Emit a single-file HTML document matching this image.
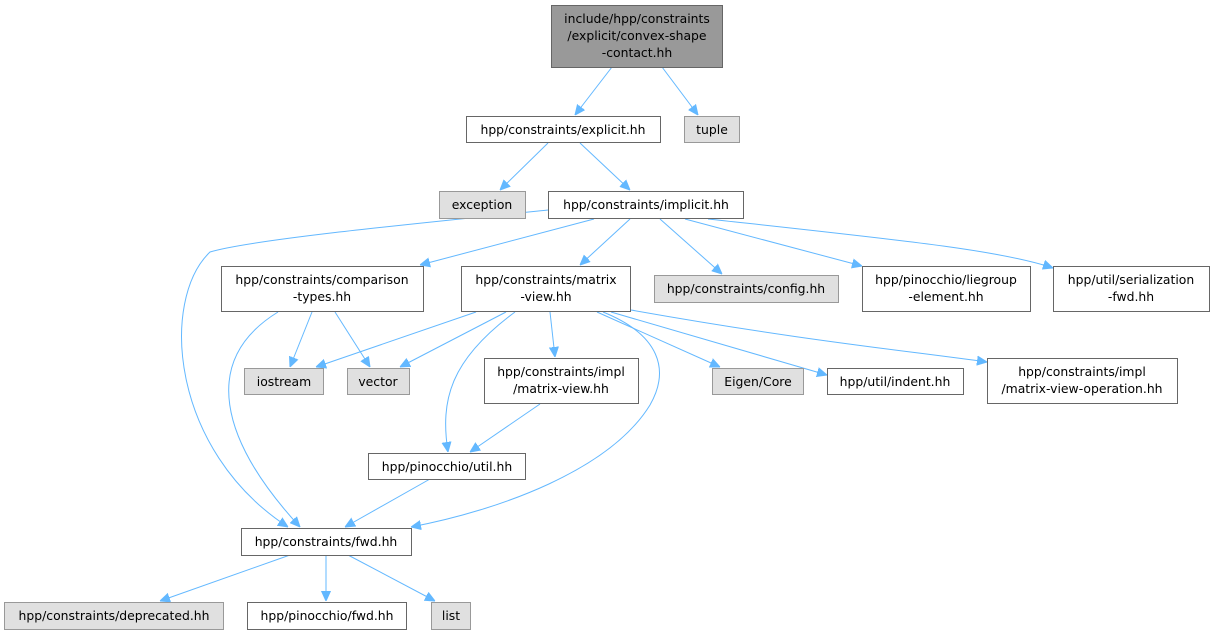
<!DOCTYPE html>
<html><head><meta charset="utf-8"><style>
html,body{margin:0;padding:0;background:#fff;}
svg{display:block;}
text{font-family:"DejaVu Sans","Liberation Sans",sans-serif;font-size:12.4px;fill:#000;text-anchor:middle;}
.n{fill:#fff;stroke:#666;stroke-width:1;}
.g{fill:#e0e0e0;stroke:#999;stroke-width:1;}
.e{fill:none;stroke:#63b8ff;stroke-width:1;}
</style></head><body>
<svg width="1214" height="636" viewBox="0 0 1214 636">
<defs><marker id="a" viewBox="0 0 10 10" refX="10" refY="5" markerWidth="10" markerHeight="10" markerUnits="userSpaceOnUse" orient="auto"><path d="M0,0.5 L10,5 L0,9.5 z" fill="#63b8ff" stroke="#63b8ff"/></marker></defs>
<g marker-end="url(#a)">
<path class="e" d="M612,67 L575,115"/>
<path class="e" d="M662,67 L698,115"/>
<path class="e" d="M548,143 L500,190"/>
<path class="e" d="M580,143 L630,190"/>
<path class="e" d="M548,210 C400,225 250,240 210,252 C160,300 170,450 288,527"/>
<path class="e" d="M594,219 L420,265"/>
<path class="e" d="M630,219 L580,265"/>
<path class="e" d="M660,219 L722,274"/>
<path class="e" d="M685,219 L862,266"/>
<path class="e" d="M708,219 C900,240 1000,250 1053,268"/>
<path class="e" d="M278,312 C200,360 220,440 300,527"/>
<path class="e" d="M312,312 L290,367"/>
<path class="e" d="M335,312 L370,367"/>
<path class="e" d="M476,312 L316,367"/>
<path class="e" d="M506,312 L400,367"/>
<path class="e" d="M515,312 C450,360 440,400 448,452"/>
<path class="e" d="M550,312 L555,357"/>
<path class="e" d="M597,312 L720,367"/>
<path class="e" d="M603,312 C660,335 670,370 650,405 C610,470 500,510 411,527"/>
<path class="e" d="M611,312 L827,375"/>
<path class="e" d="M631,310 C800,340 900,350 987,362"/>
<path class="e" d="M540,404 L470,452"/>
<path class="e" d="M430,479 L345,527"/>
<path class="e" d="M290,555 L160,601"/>
<path class="e" d="M326,555 L326,601"/>
<path class="e" d="M348,555 L435,601"/>
</g>
<rect x="551.5" y="5.5" width="171" height="62" fill="#999" stroke="#666"/>
<text x="637" y="23">include/hpp/constraints</text><text x="637" y="40">/explicit/convex-shape</text><text x="637" y="57">-contact.hh</text>
<rect class="n" x="466.5" y="116.5" width="194" height="26"/><text x="563" y="134">hpp/constraints/explicit.hh</text>
<rect class="g" x="684.5" y="116.5" width="55" height="26"/><text x="712" y="134">tuple</text>
<rect class="g" x="439.5" y="191.5" width="86" height="27"/><text x="482" y="209">exception</text>
<rect class="n" x="548.5" y="191.5" width="195" height="27"/><text x="646" y="209">hpp/constraints/implicit.hh</text>
<rect class="n" x="221.5" y="266.5" width="202" height="45"/><text x="322" y="284">hpp/constraints/comparison</text><text x="322" y="301">-types.hh</text>
<rect class="n" x="461.5" y="266.5" width="169" height="45"/><text x="546" y="284">hpp/constraints/matrix</text><text x="546" y="301">-view.hh</text>
<rect class="g" x="654.5" y="275.5" width="184" height="27"/><text x="746" y="293">hpp/constraints/config.hh</text>
<rect class="n" x="862.5" y="266.5" width="168" height="45"/><text x="946" y="284">hpp/pinocchio/liegroup</text><text x="946" y="301">-element.hh</text>
<rect class="n" x="1053.5" y="266.5" width="156" height="45"/><text x="1131" y="284">hpp/util/serialization</text><text x="1131" y="301">-fwd.hh</text>
<rect class="g" x="244.5" y="368.5" width="79" height="26"/><text x="284" y="386">iostream</text>
<rect class="g" x="347.5" y="368.5" width="62" height="26"/><text x="378" y="386">vector</text>
<rect class="n" x="484.5" y="358.5" width="154" height="45"/><text x="561" y="376">hpp/constraints/impl</text><text x="561" y="393">/matrix-view.hh</text>
<rect class="g" x="712.5" y="368.5" width="91" height="26"/><text x="758" y="386">Eigen/Core</text>
<rect class="n" x="827.5" y="368.5" width="136" height="26"/><text x="895" y="386">hpp/util/indent.hh</text>
<rect class="n" x="987.5" y="358.5" width="190" height="45"/><text x="1082" y="376">hpp/constraints/impl</text><text x="1082" y="393">/matrix-view-operation.hh</text>
<rect class="n" x="368.5" y="453.5" width="157" height="26"/><text x="447" y="471">hpp/pinocchio/util.hh</text>
<rect class="n" x="241.5" y="528.5" width="170" height="27"/><text x="326" y="546">hpp/constraints/fwd.hh</text>
<rect class="g" x="4.5" y="602.5" width="219" height="27"/><text x="114" y="620">hpp/constraints/deprecated.hh</text>
<rect class="n" x="247.5" y="602.5" width="159" height="27"/><text x="327" y="620">hpp/pinocchio/fwd.hh</text>
<rect class="g" x="431.5" y="602.5" width="39" height="27"/><text x="451" y="620">list</text>
</svg>
</body></html>
